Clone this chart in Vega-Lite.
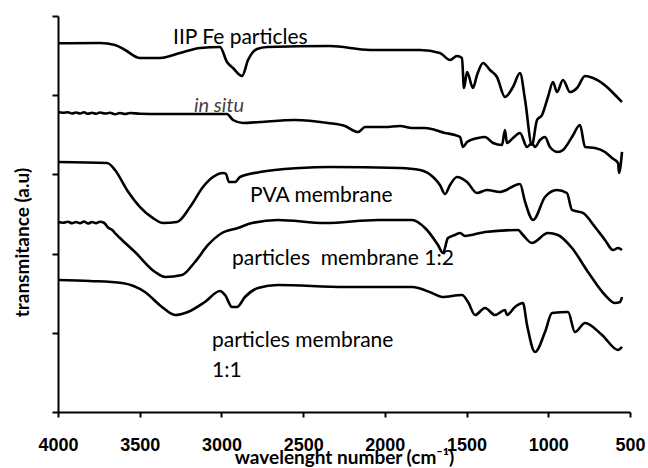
{
  "$schema": "https://vega.github.io/schema/vega-lite/v6.json",
  "autosize": "none",
  "padding": {"left": 58, "top": 16, "right": 18, "bottom": 56},
  "width": 572,
  "height": 396,
  "config": {"view": {"stroke": null}},
  "datasets": {
    "spectra": [
      {"series": "IIP", "wn": 4000, "t": 4.655}, {"series": "IIP", "wn": 3743, "t": 4.659}, {"series": "IIP", "wn": 3651, "t": 4.634}, {"series": "IIP", "wn": 3590, "t": 4.571}, {"series": "IIP", "wn": 3498, "t": 4.47}, {"series": "IIP", "wn": 3376, "t": 4.47}, {"series": "IIP", "wn": 3253, "t": 4.533}, {"series": "IIP", "wn": 3131, "t": 4.596}, {"series": "IIP", "wn": 3009, "t": 4.609}, {"series": "IIP", "wn": 2966, "t": 4.419}, {"series": "IIP", "wn": 2929, "t": 4.343}, {"series": "IIP", "wn": 2874, "t": 4.242}, {"series": "IIP", "wn": 2837, "t": 4.444}, {"series": "IIP", "wn": 2782, "t": 4.583}, {"series": "IIP", "wn": 2721, "t": 4.609}, {"series": "IIP", "wn": 2336, "t": 4.621}, {"series": "IIP", "wn": 2091, "t": 4.571}, {"series": "IIP", "wn": 1785, "t": 4.571}, {"series": "IIP", "wn": 1663, "t": 4.533}, {"series": "IIP", "wn": 1601, "t": 4.444}, {"series": "IIP", "wn": 1559, "t": 4.495}, {"series": "IIP", "wn": 1528, "t": 4.47}, {"series": "IIP", "wn": 1516, "t": 4.091}, {"series": "IIP", "wn": 1497, "t": 4.293}, {"series": "IIP", "wn": 1461, "t": 4.091}, {"series": "IIP", "wn": 1436, "t": 4.255}, {"series": "IIP", "wn": 1399, "t": 4.407}, {"series": "IIP", "wn": 1357, "t": 4.318}, {"series": "IIP", "wn": 1314, "t": 4.23}, {"series": "IIP", "wn": 1265, "t": 3.977}, {"series": "IIP", "wn": 1216, "t": 4.104}, {"series": "IIP", "wn": 1173, "t": 4.28}, {"series": "IIP", "wn": 1142, "t": 3.939}, {"series": "IIP", "wn": 1100, "t": 3.371}, {"series": "IIP", "wn": 1069, "t": 3.687}, {"series": "IIP", "wn": 1038, "t": 3.75}, {"series": "IIP", "wn": 1002, "t": 3.977}, {"series": "IIP", "wn": 971, "t": 4.167}, {"series": "IIP", "wn": 947, "t": 4.04}, {"series": "IIP", "wn": 910, "t": 4.192}, {"series": "IIP", "wn": 867, "t": 4.04}, {"series": "IIP", "wn": 824, "t": 4.091}, {"series": "IIP", "wn": 775, "t": 4.242}, {"series": "IIP", "wn": 726, "t": 4.217}, {"series": "IIP", "wn": 641, "t": 4.104}, {"series": "IIP", "wn": 579, "t": 3.977}, {"series": "IIP", "wn": 549, "t": 3.914},

      {"series": "insitu", "wn": 4000, "t": 3.788}, {"series": "insitu", "wn": 3969, "t": 3.778}, {"series": "insitu", "wn": 3939, "t": 3.785}, {"series": "insitu", "wn": 3914, "t": 3.768}, {"series": "insitu", "wn": 3890, "t": 3.782}, {"series": "insitu", "wn": 3865, "t": 3.768}, {"series": "insitu", "wn": 3841, "t": 3.785}, {"series": "insitu", "wn": 3816, "t": 3.765}, {"series": "insitu", "wn": 3792, "t": 3.778}, {"series": "insitu", "wn": 3767, "t": 3.765}, {"series": "insitu", "wn": 3743, "t": 3.782}, {"series": "insitu", "wn": 3712, "t": 3.768}, {"series": "insitu", "wn": 3682, "t": 3.778}, {"series": "insitu", "wn": 3651, "t": 3.76}, {"series": "insitu", "wn": 3621, "t": 3.775}, {"series": "insitu", "wn": 3590, "t": 3.763}, {"series": "insitu", "wn": 3559, "t": 3.775}, {"series": "insitu", "wn": 3498, "t": 3.766}, {"series": "insitu", "wn": 3376, "t": 3.763}, {"series": "insitu", "wn": 3131, "t": 3.763}, {"series": "insitu", "wn": 2966, "t": 3.763}, {"series": "insitu", "wn": 2929, "t": 3.687}, {"series": "insitu", "wn": 2868, "t": 3.649}, {"series": "insitu", "wn": 2764, "t": 3.662}, {"series": "insitu", "wn": 2550, "t": 3.687}, {"series": "insitu", "wn": 2348, "t": 3.649}, {"series": "insitu", "wn": 2244, "t": 3.611}, {"series": "insitu", "wn": 2164, "t": 3.535}, {"series": "insitu", "wn": 2121, "t": 3.598}, {"series": "insitu", "wn": 2000, "t": 3.598}, {"series": "insitu", "wn": 1907, "t": 3.611}, {"series": "insitu", "wn": 1834, "t": 3.586}, {"series": "insitu", "wn": 1754, "t": 3.586}, {"series": "insitu", "wn": 1632, "t": 3.523}, {"series": "insitu", "wn": 1571, "t": 3.497}, {"series": "insitu", "wn": 1540, "t": 3.472}, {"series": "insitu", "wn": 1522, "t": 3.346}, {"series": "insitu", "wn": 1497, "t": 3.409}, {"series": "insitu", "wn": 1430, "t": 3.46}, {"series": "insitu", "wn": 1387, "t": 3.472}, {"series": "insitu", "wn": 1338, "t": 3.396}, {"series": "insitu", "wn": 1283, "t": 3.371}, {"series": "insitu", "wn": 1265, "t": 3.561}, {"series": "insitu", "wn": 1253, "t": 3.396}, {"series": "insitu", "wn": 1216, "t": 3.46}, {"series": "insitu", "wn": 1173, "t": 3.523}, {"series": "insitu", "wn": 1130, "t": 3.346}, {"series": "insitu", "wn": 1100, "t": 3.396}, {"series": "insitu", "wn": 1081, "t": 3.346}, {"series": "insitu", "wn": 1051, "t": 3.434}, {"series": "insitu", "wn": 1020, "t": 3.472}, {"series": "insitu", "wn": 990, "t": 3.346}, {"series": "insitu", "wn": 941, "t": 3.283}, {"series": "insitu", "wn": 910, "t": 3.308}, {"series": "insitu", "wn": 855, "t": 3.472}, {"series": "insitu", "wn": 806, "t": 3.624}, {"series": "insitu", "wn": 775, "t": 3.346}, {"series": "insitu", "wn": 714, "t": 3.333}, {"series": "insitu", "wn": 653, "t": 3.283}, {"series": "insitu", "wn": 610, "t": 3.207}, {"series": "insitu", "wn": 573, "t": 3.144}, {"series": "insitu", "wn": 567, "t": 3.018}, {"series": "insitu", "wn": 549, "t": 3.283},

      {"series": "PVA", "wn": 4000, "t": 3.157}, {"series": "PVA", "wn": 3700, "t": 3.144}, {"series": "PVA", "wn": 3651, "t": 3.056}, {"series": "PVA", "wn": 3578, "t": 2.803}, {"series": "PVA", "wn": 3498, "t": 2.588}, {"series": "PVA", "wn": 3419, "t": 2.449}, {"series": "PVA", "wn": 3358, "t": 2.386}, {"series": "PVA", "wn": 3272, "t": 2.399}, {"series": "PVA", "wn": 3192, "t": 2.588}, {"series": "PVA", "wn": 3113, "t": 2.841}, {"series": "PVA", "wn": 3052, "t": 2.967}, {"series": "PVA", "wn": 2990, "t": 3.018}, {"series": "PVA", "wn": 2972, "t": 3.005}, {"series": "PVA", "wn": 2954, "t": 2.904}, {"series": "PVA", "wn": 2917, "t": 2.904}, {"series": "PVA", "wn": 2886, "t": 2.967}, {"series": "PVA", "wn": 2764, "t": 3.03}, {"series": "PVA", "wn": 2519, "t": 3.081}, {"series": "PVA", "wn": 2336, "t": 3.093}, {"series": "PVA", "wn": 1907, "t": 3.081}, {"series": "PVA", "wn": 1785, "t": 3.056}, {"series": "PVA", "wn": 1705, "t": 2.967}, {"series": "PVA", "wn": 1663, "t": 2.866}, {"series": "PVA", "wn": 1632, "t": 2.753}, {"series": "PVA", "wn": 1601, "t": 2.866}, {"series": "PVA", "wn": 1559, "t": 2.967}, {"series": "PVA", "wn": 1497, "t": 2.904}, {"series": "PVA", "wn": 1436, "t": 2.765}, {"series": "PVA", "wn": 1375, "t": 2.803}, {"series": "PVA", "wn": 1295, "t": 2.778}, {"series": "PVA", "wn": 1173, "t": 2.879}, {"series": "PVA", "wn": 1142, "t": 2.652}, {"series": "PVA", "wn": 1093, "t": 2.424}, {"series": "PVA", "wn": 1020, "t": 2.715}, {"series": "PVA", "wn": 947, "t": 2.803}, {"series": "PVA", "wn": 886, "t": 2.765}, {"series": "PVA", "wn": 855, "t": 2.551}, {"series": "PVA", "wn": 788, "t": 2.513}, {"series": "PVA", "wn": 714, "t": 2.336}, {"series": "PVA", "wn": 653, "t": 2.172}, {"series": "PVA", "wn": 604, "t": 2.045}, {"series": "PVA", "wn": 573, "t": 2.071}, {"series": "PVA", "wn": 549, "t": 2.045},

      {"series": "m12", "wn": 4000, "t": 2.399}, {"series": "m12", "wn": 3969, "t": 2.389}, {"series": "m12", "wn": 3939, "t": 2.402}, {"series": "m12", "wn": 3914, "t": 2.384}, {"series": "m12", "wn": 3890, "t": 2.399}, {"series": "m12", "wn": 3865, "t": 2.384}, {"series": "m12", "wn": 3841, "t": 2.405}, {"series": "m12", "wn": 3816, "t": 2.38}, {"series": "m12", "wn": 3792, "t": 2.399}, {"series": "m12", "wn": 3767, "t": 2.384}, {"series": "m12", "wn": 3743, "t": 2.402}, {"series": "m12", "wn": 3719, "t": 2.39}, {"series": "m12", "wn": 3694, "t": 2.33}, {"series": "m12", "wn": 3670, "t": 2.3}, {"series": "m12", "wn": 3645, "t": 2.247}, {"series": "m12", "wn": 3621, "t": 2.197}, {"series": "m12", "wn": 3529, "t": 2.02}, {"series": "m12", "wn": 3406, "t": 1.768}, {"series": "m12", "wn": 3345, "t": 1.705}, {"series": "m12", "wn": 3241, "t": 1.73}, {"series": "m12", "wn": 3162, "t": 1.894}, {"series": "m12", "wn": 3082, "t": 2.109}, {"series": "m12", "wn": 2997, "t": 2.26}, {"series": "m12", "wn": 2899, "t": 2.323}, {"series": "m12", "wn": 2813, "t": 2.386}, {"series": "m12", "wn": 2654, "t": 2.424}, {"series": "m12", "wn": 2366, "t": 2.386}, {"series": "m12", "wn": 2042, "t": 2.424}, {"series": "m12", "wn": 1834, "t": 2.424}, {"series": "m12", "wn": 1754, "t": 2.323}, {"series": "m12", "wn": 1675, "t": 2.109}, {"series": "m12", "wn": 1644, "t": 2.008}, {"series": "m12", "wn": 1614, "t": 2.197}, {"series": "m12", "wn": 1571, "t": 2.235}, {"series": "m12", "wn": 1540, "t": 2.26}, {"series": "m12", "wn": 1510, "t": 2.223}, {"series": "m12", "wn": 1387, "t": 2.273}, {"series": "m12", "wn": 1185, "t": 2.298}, {"series": "m12", "wn": 1155, "t": 2.235}, {"series": "m12", "wn": 1100, "t": 2.134}, {"series": "m12", "wn": 1002, "t": 2.26}, {"series": "m12", "wn": 941, "t": 2.235}, {"series": "m12", "wn": 855, "t": 2.071}, {"series": "m12", "wn": 757, "t": 1.768}, {"series": "m12", "wn": 653, "t": 1.477}, {"series": "m12", "wn": 592, "t": 1.376}, {"series": "m12", "wn": 561, "t": 1.389}, {"series": "m12", "wn": 549, "t": 1.452},

      {"series": "m11", "wn": 4000, "t": 1.667}, {"series": "m11", "wn": 3804, "t": 1.654}, {"series": "m11", "wn": 3608, "t": 1.629}, {"series": "m11", "wn": 3468, "t": 1.515}, {"series": "m11", "wn": 3364, "t": 1.326}, {"series": "m11", "wn": 3284, "t": 1.225}, {"series": "m11", "wn": 3205, "t": 1.263}, {"series": "m11", "wn": 3101, "t": 1.389}, {"series": "m11", "wn": 3009, "t": 1.528}, {"series": "m11", "wn": 2978, "t": 1.477}, {"series": "m11", "wn": 2935, "t": 1.326}, {"series": "m11", "wn": 2905, "t": 1.326}, {"series": "m11", "wn": 2856, "t": 1.452}, {"series": "m11", "wn": 2776, "t": 1.566}, {"series": "m11", "wn": 2654, "t": 1.604}, {"series": "m11", "wn": 2244, "t": 1.578}, {"series": "m11", "wn": 1834, "t": 1.578}, {"series": "m11", "wn": 1712, "t": 1.503}, {"series": "m11", "wn": 1650, "t": 1.452}, {"series": "m11", "wn": 1528, "t": 1.477}, {"series": "m11", "wn": 1491, "t": 1.389}, {"series": "m11", "wn": 1448, "t": 1.225}, {"series": "m11", "wn": 1387, "t": 1.313}, {"series": "m11", "wn": 1326, "t": 1.225}, {"series": "m11", "wn": 1265, "t": 1.288}, {"series": "m11", "wn": 1253, "t": 1.225}, {"series": "m11", "wn": 1204, "t": 1.326}, {"series": "m11", "wn": 1155, "t": 1.376}, {"series": "m11", "wn": 1130, "t": 1.098}, {"series": "m11", "wn": 1081, "t": 0.758}, {"series": "m11", "wn": 1020, "t": 1.01}, {"series": "m11", "wn": 977, "t": 1.25}, {"series": "m11", "wn": 879, "t": 1.263}, {"series": "m11", "wn": 837, "t": 1.01}, {"series": "m11", "wn": 775, "t": 1.124}, {"series": "m11", "wn": 671, "t": 0.972}, {"series": "m11", "wn": 573, "t": 0.783}, {"series": "m11", "wn": 549, "t": 0.821}
    ],
    "labels": [
      {"label": "IIP Fe particles", "wn": 3296, "t": 4.646, "kind": "normal"},
      {"label": "in situ", "wn": 3168, "t": 3.788, "kind": "italic"},
      {"label": "PVA membrane", "wn": 2825, "t": 2.652, "kind": "normal"},
      {"label": "particles\u00a0 membrane 1:2", "wn": 2935, "t": 1.856, "kind": "normal"},
      {"label": "particles membrane", "wn": 3058, "t": 0.821, "kind": "normal"},
      {"label": "1:1", "wn": 3058, "t": 0.442, "kind": "normal"}
    ]
  },
  "layer": [
    {
      "data": {"name": "spectra"},
      "mark": {"type": "line", "color": "black", "strokeWidth": 2.6, "strokeJoin": "round", "interpolate": "monotone"},
      "encoding": {
        "x": {
          "field": "wn", "type": "quantitative",
          "scale": {"domain": [500, 4000], "reverse": true, "nice": false, "zero": false},
          "axis": {
            "title": "wavelenght number (cm⁻¹)",
            "values": [500, 1000, 1500, 2000, 2500, 3000, 3500, 4000],
            "format": "d",
            "grid": false,
            "domainColor": "black", "domainWidth": 2,
            "tickColor": "black", "tickWidth": 2, "tickSize": 5,
            "labelFont": "Liberation Sans", "labelFontSize": 18, "labelFontWeight": "bold", "labelColor": "black",
            "labelBaseline": "alphabetic", "labelPadding": 33, "labelFlush": false, "labelOverlap": false,
            "titleFont": "Lato", "titleFontSize": 19, "titleFontWeight": "bold", "titleColor": "black",
            "titleBaseline": "alphabetic", "titleY": 51, "titleX": 286, "titleAlign": "center"
          }
        },
        "y": {
          "field": "t", "type": "quantitative",
          "scale": {"domain": [0, 5], "nice": false, "zero": false},
          "axis": {
            "title": "transmitance (a.u)",
            "values": [0, 1, 2, 3, 4, 5],
            "labels": false, "grid": false,
            "domainColor": "black", "domainWidth": 2,
            "tickColor": "black", "tickWidth": 2, "tickSize": 6,
            "titleFont": "Lato", "titleFontSize": 19, "titleFontWeight": "bold", "titleColor": "black",
            "titleAngle": -90, "titleBaseline": "alphabetic", "titleX": -30, "titleY": 226, "titleAlign": "center"
          }
        },
        "detail": {"field": "series"}
      }
    },
    {
      "data": {"name": "labels"},
      "transform": [{"filter": "datum.kind === 'normal'"}],
      "mark": {"type": "text", "align": "left", "baseline": "alphabetic", "font": "Lato", "fontSize": 21, "color": "black"},
      "encoding": {
        "x": {"field": "wn", "type": "quantitative"},
        "y": {"field": "t", "type": "quantitative"},
        "text": {"field": "label"}
      }
    },
    {
      "data": {"name": "labels"},
      "transform": [{"filter": "datum.kind === 'italic'"}],
      "mark": {"type": "text", "align": "left", "baseline": "alphabetic", "font": "Lato", "fontSize": 20, "fontStyle": "italic", "color": "#444444"},
      "encoding": {
        "x": {"field": "wn", "type": "quantitative"},
        "y": {"field": "t", "type": "quantitative"},
        "text": {"field": "label"}
      }
    }
  ]
}
